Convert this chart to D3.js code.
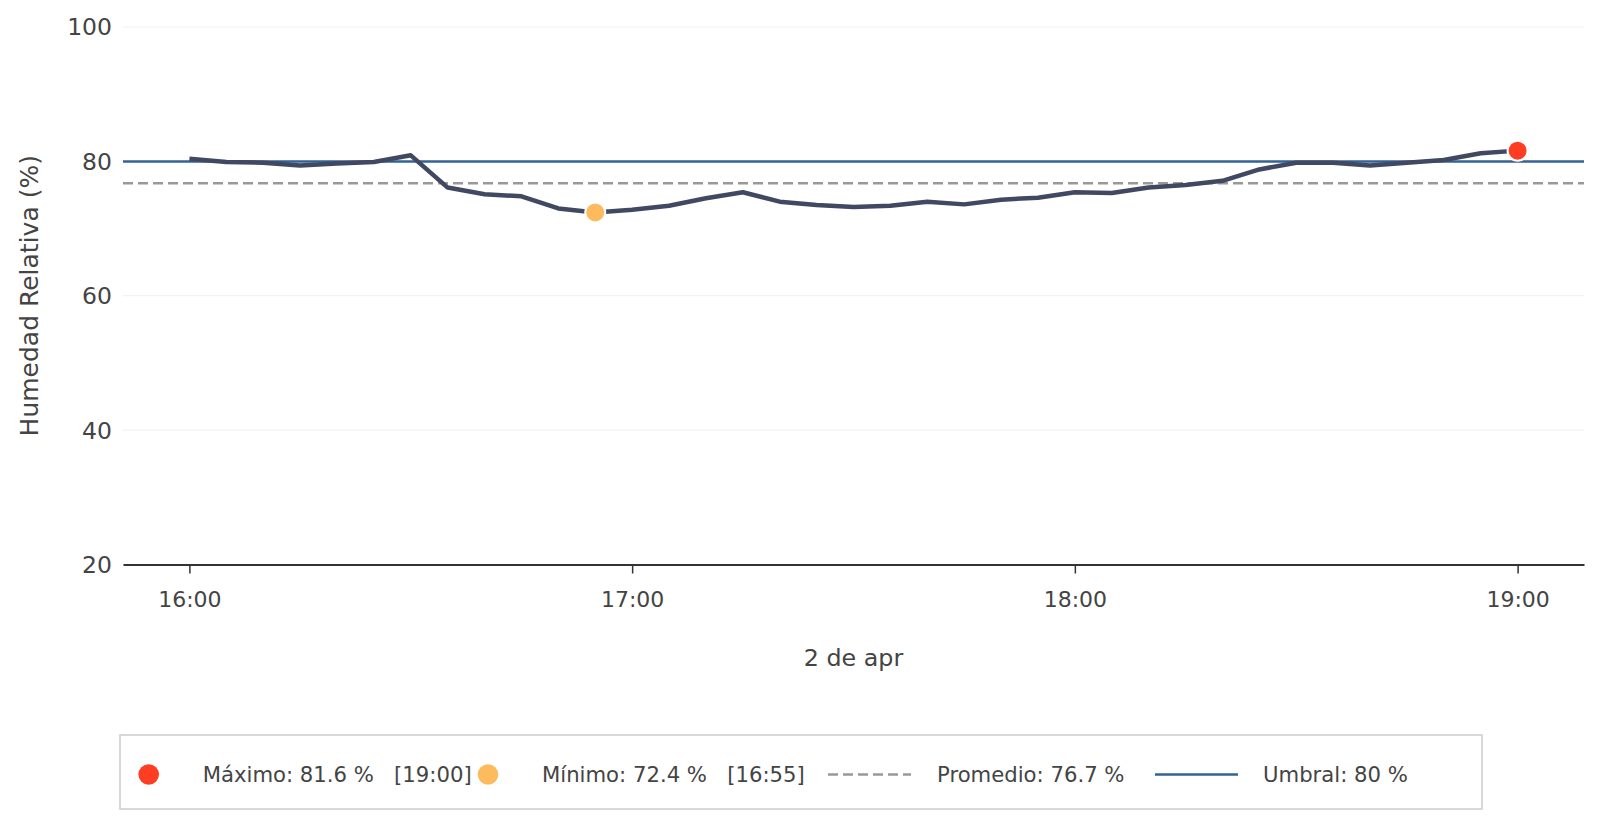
<!DOCTYPE html>
<html>
<head>
<meta charset="utf-8">
<script src="https://cdn.jsdelivr.net/npm/d3@7"></script>
<style>
  html, body { margin: 0; padding: 0; background: #ffffff; }
  svg { display: block; }
  text { font-family: "DejaVu Sans", sans-serif; fill: #444444; }
</style>
</head>
<body>
<svg id="chart" width="1601" height="828"></svg>
<script>
// ---- data ----
const dateLabel = "2024-04-02";
const times = ["16:00","16:05","16:10","16:15","16:20","16:25","16:30","16:35","16:40","16:45",
               "16:50","16:55","17:00","17:05","17:10","17:15","17:20","17:25","17:30","17:35",
               "17:40","17:45","17:50","17:55","18:00","18:05","18:10","18:15","18:20","18:25",
               "18:30","18:35","18:40","18:45","18:50","18:55","19:00"];
const humidity = [80.4, 79.9, 79.8, 79.4, 79.7, 79.9, 80.9, 76.1, 75.1, 74.8,
                  73.0, 72.4, 72.8, 73.4, 74.5, 75.4, 74.0, 73.5, 73.2, 73.4,
                  74.0, 73.6, 74.3, 74.6, 75.4, 75.3, 76.1, 76.5, 77.1, 78.8,
                  79.8, 79.8, 79.4, 79.8, 80.2, 81.2, 81.6];
const threshold = 80;
const yTicks = [20, 40, 60, 80, 100];
const xTickLabels = ["16:00", "17:00", "18:00", "19:00"];
const yTitle = "Humedad Relativa (%)";
const xTitle = "2 de apr";

(function () {
const parse = d3.timeParse("%Y-%m-%d %H:%M");
const data = times.map((t, i) => ({ t: parse(dateLabel + " " + t), label: t, v: humidity[i] }));
const maxPt = data.reduce((a, b) => (b.v > a.v ? b : a));
const minPt = data.reduce((a, b) => (b.v < a.v ? b : a));
const avg = d3.mean(humidity);
const fmt = d3.format(".1f");

const colors = { line: "#404862", max: "#ff3d22", min: "#fdbb5e", avg: "#999999", thr: "#336294", grid: "#efefef", axis: "#333333" };

const svg = d3.select("#chart");
const pL = 123, pR = 1584, pT = 27, pB = 564.5;

const tExt = d3.extent(data, d => d.t);
const pad = (tExt[1] - tExt[0]) * 0.05;
const x = d3.scaleTime().domain([new Date(+tExt[0] - pad), new Date(+tExt[1] + pad)]).range([pL, pR]);
const y = d3.scaleLinear().domain([20, 100]).range([pB, pT]);

// grid
svg.append("g").selectAll("line").data(yTicks.filter(v => v > 20)).join("line")
  .attr("x1", pL).attr("x2", pR)
  .attr("y1", d => y(d)).attr("y2", d => y(d))
  .attr("stroke", colors.grid).attr("stroke-width", 1);

// y tick labels
svg.append("g").selectAll("text").data(yTicks).join("text")
  .attr("x", 112).attr("y", d => y(d)).attr("dy", "0.36em")
  .attr("text-anchor", "end").style("font-size", "23.5px")
  .text(d => d);

// x axis
const xTickDates = xTickLabels.map(s => parse(dateLabel + " " + s));
const xAxis = d3.axisBottom(x).tickValues(xTickDates).tickFormat(d3.timeFormat("%H:%M"))
  .tickSize(9).tickSizeOuter(0).tickPadding(18);
const gx = svg.append("g").attr("transform", `translate(0,${pB})`).call(xAxis);
gx.select(".domain").attr("stroke", colors.axis).attr("stroke-width", 2);
gx.selectAll(".tick line").attr("stroke", colors.axis).attr("stroke-width", 1.5);
gx.selectAll(".tick text").style("font-size", "22px").attr("fill", "#444444")
  .style("font-family", '"DejaVu Sans", sans-serif');

// titles
svg.append("text").attr("transform", `translate(28.5,${(pT + pB) / 2}) rotate(-90)`)
  .attr("text-anchor", "middle").attr("dy", "0.36em").style("font-size", "25px").text(yTitle);
svg.append("text").attr("x", (pL + pR) / 2).attr("y", 657).attr("dy", "0.36em")
  .attr("text-anchor", "middle").style("font-size", "23.8px").text(xTitle);

// threshold & average
svg.append("line").attr("x1", pL).attr("x2", pR).attr("y1", y(threshold)).attr("y2", y(threshold))
  .attr("stroke", colors.thr).attr("stroke-width", 2.5);
svg.append("line").attr("x1", pL).attr("x2", pR).attr("y1", y(avg)).attr("y2", y(avg))
  .attr("stroke", colors.avg).attr("stroke-width", 2.5).attr("stroke-dasharray", "10,5");

// line
svg.append("path").datum(data)
  .attr("d", d3.line().x(d => x(d.t)).y(d => y(d.v)))
  .attr("fill", "none").attr("stroke", colors.line).attr("stroke-width", 4.5).attr("stroke-linejoin", "round");

// extremes
svg.append("circle").attr("cx", x(minPt.t)).attr("cy", y(minPt.v)).attr("r", 10)
  .attr("fill", colors.min).attr("stroke", "#fff").attr("stroke-width", 2);
svg.append("circle").attr("cx", x(maxPt.t)).attr("cy", y(maxPt.v)).attr("r", 10)
  .attr("fill", colors.max).attr("stroke", "#fff").attr("stroke-width", 2);

// legend
const ly = 774.5;
const lg = svg.append("g");
lg.append("rect").attr("x", 120).attr("y", 735).attr("width", 1362).attr("height", 74)
  .attr("fill", "none").attr("stroke", "#cccccc").attr("stroke-width", 1.5);
const ltext = (xpos, s) => lg.append("text").attr("x", xpos).attr("y", ly).attr("dy", "0.36em")
  .style("font-size", "21.2px").style("white-space", "pre").text(s);
lg.append("circle").attr("cx", 148.7).attr("cy", ly).attr("r", 10.3).attr("fill", colors.max);
ltext(202.7, `Máximo: ${fmt(maxPt.v)} %   [${maxPt.label}]`);
lg.append("circle").attr("cx", 488).attr("cy", ly).attr("r", 10.3).attr("fill", colors.min);
ltext(542, `Mínimo: ${fmt(minPt.v)} %   [${minPt.label}]`);
lg.append("line").attr("x1", 828).attr("x2", 911).attr("y1", ly).attr("y2", ly)
  .attr("stroke", colors.avg).attr("stroke-width", 2.5).attr("stroke-dasharray", "10,5");
ltext(937, `Promedio: ${fmt(avg)} %`);
lg.append("line").attr("x1", 1155).attr("x2", 1238).attr("y1", ly).attr("y2", ly)
  .attr("stroke", colors.thr).attr("stroke-width", 2.5);
ltext(1263, `Umbral: ${threshold} %`);
})();
</script>
</body>
</html>
